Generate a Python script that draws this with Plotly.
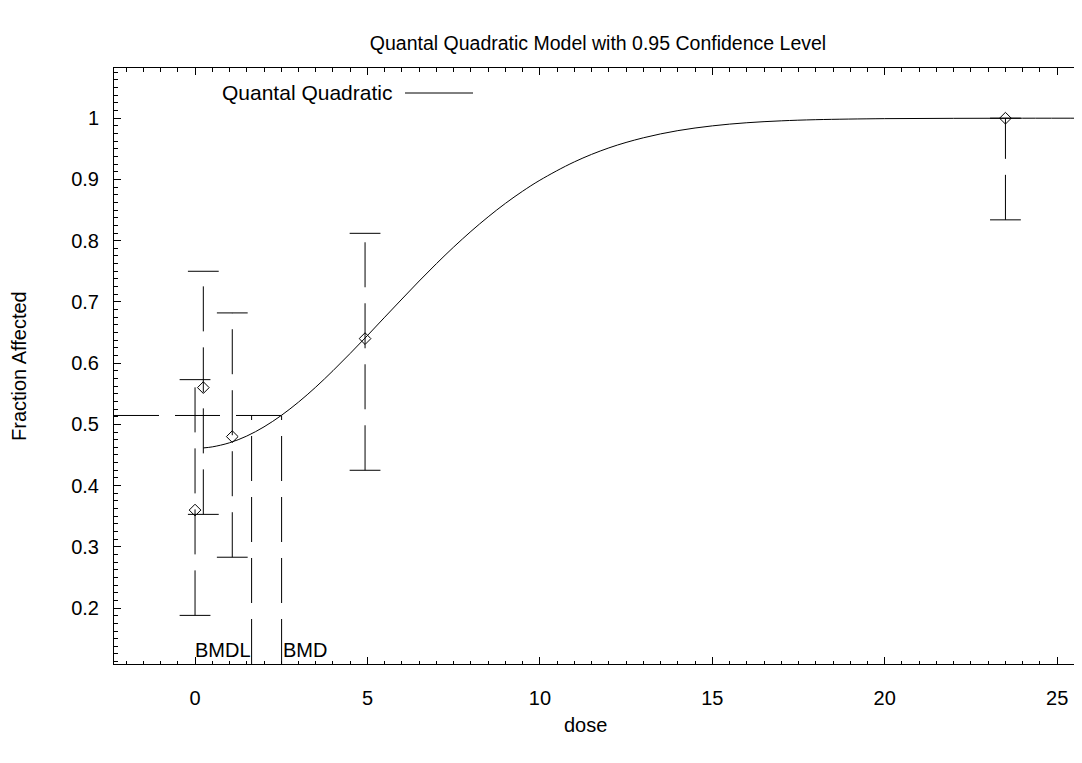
import plotly.graph_objects as go

# Observed data (dose, fraction affected, 95% CI)
dose = [0.0, 0.24, 1.08, 4.93, 23.5]
frac = [0.36, 0.56, 0.48, 0.64, 1.00]
ci_lo = [0.188, 0.353, 0.283, 0.425, 0.834]
ci_hi = [0.573, 0.750, 0.682, 0.812, 1.000]

# Fitted Quantal Quadratic curve
curve_dose = [0.24, 0.5, 1, 1.5, 2, 2.5, 3, 3.5, 4, 4.5, 5, 5.5, 6, 6.5, 7, 7.5,
              8, 8.5, 9, 9.5, 10, 11, 12, 13, 14, 15, 16, 17, 18, 20, 22, 24, 26]
curve_p = [0.4615, 0.4632, 0.4699, 0.4809, 0.4959, 0.5145, 0.5363, 0.5608, 0.5876,
           0.6159, 0.6451, 0.6750, 0.7047, 0.7341, 0.7625, 0.7896, 0.8151, 0.8389,
           0.8609, 0.8808, 0.8987, 0.9287, 0.9515, 0.9680, 0.9797, 0.9875, 0.9926,
           0.9957, 0.9976, 0.9993, 0.9998, 1.0, 1.0]

bmr_level = 0.5145
bmd = 2.51
bmdl = 1.64

x_range = [-2.35, 25.72]
y_range = [0.1086, 1.082]

x_ticks = [0, 5, 10, 15, 20, 25]
y_ticks = [0.2, 0.3, 0.4, 0.5, 0.6, 0.7, 0.8, 0.9, 1]

FONT = "Liberation Sans, Arial, Helvetica, sans-serif"
FS = 20
DASH = "45px,16px"

# The page body has an 8px default margin; the figure is sized to fill the
# rest of the 1082x763 window.
OFF = 8
WIN_W, WIN_H = 1082, 763
FIG_W, FIG_H = WIN_W - OFF, WIN_H - OFF

# plot area in window pixels
L, T, R, B = 114, 68, 1082, 664
PW, PH = R - L, B - T

def px(xp):
    return (xp - L) / PW

def py(yp):
    return (B - yp) / PH

fig = go.Figure()

# Error bars (dashed vertical, drawn bottom-up)
ex, ey = [], []
for d, lo, hi in zip(dose, ci_lo, ci_hi):
    ex += [d, d, None]
    ey += [lo, hi, None]
fig.add_trace(go.Scatter(x=ex, y=ey, mode="lines",
                         line=dict(color="black", width=1, dash=DASH),
                         hoverinfo="skip", showlegend=False))
# Caps
fig.add_trace(go.Scatter(x=dose + dose, y=ci_lo + ci_hi, mode="markers",
                         marker=dict(symbol="line-ew-open", size=22, color="black",
                                     line=dict(color="black", width=1)),
                         hoverinfo="skip", showlegend=False))

# Fitted curve
fig.add_trace(go.Scatter(x=curve_dose, y=curve_p, mode="lines", line_shape="spline",
                         line=dict(color="black", width=1), name="Quantal Quadratic",
                         showlegend=False))

# BMR horizontal and BMD / BMDL verticals
fig.add_trace(go.Scatter(x=[x_range[0], bmd], y=[bmr_level, bmr_level], mode="lines",
                         line=dict(color="black", width=1, dash=DASH),
                         hoverinfo="skip", showlegend=False))
fig.add_trace(go.Scatter(x=[bmdl, bmdl, None, bmd, bmd],
                         y=[y_range[0], bmr_level, None, y_range[0], bmr_level],
                         mode="lines", line=dict(color="black", width=1, dash=DASH),
                         hoverinfo="skip", showlegend=False))

# Observed points
fig.add_trace(go.Scatter(x=dose, y=frac, mode="markers",
                         marker=dict(symbol="diamond-open", size=9, color="black",
                                     line=dict(color="black", width=1)),
                         showlegend=False))

fig.add_annotation(x=bmdl, y=0.131, text="BMDL", showarrow=False, xanchor="right",
                   yanchor="middle", xshift=1, font=dict(family=FONT, size=FS, color="black"))
fig.add_annotation(x=bmd, y=0.131, text="BMD", showarrow=False, xanchor="left",
                   yanchor="middle", xshift=-1, font=dict(family=FONT, size=FS, color="black"))

# Legend drawn manually (text then line sample)
fig.add_annotation(xref="paper", yref="paper", x=px(220), y=py(93),
                   text="Quantal Quadratic", showarrow=False, xanchor="left", yanchor="middle",
                   font=dict(family=FONT, size=21, color="black"))
fig.add_shape(type="line", xref="paper", yref="paper",
              x0=px(405), x1=px(473), y0=py(93), y1=py(93),
              line=dict(color="black", width=1))

# Axis titles
fig.add_annotation(xref="paper", yref="paper", x=px(585), y=py(725),
                   text="dose", showarrow=False, xanchor="center", yanchor="middle",
                   font=dict(family=FONT, size=FS, color="black"))
fig.add_annotation(xref="paper", yref="paper", x=px(19), y=py(366),
                   text="Fraction Affected", showarrow=False, textangle=-90,
                   xanchor="center", yanchor="middle",
                   font=dict(family=FONT, size=FS, color="black"))

tick_common = dict(showgrid=False, zeroline=False, showline=True, linecolor="black",
                   linewidth=1, ticks="inside", ticklen=7,
                   tickcolor="black", tickwidth=1,
                   tickfont=dict(family=FONT, size=FS, color="black"))

fig.update_xaxes(range=x_range, tickvals=x_ticks, ticktext=[str(v) for v in x_ticks],
                 mirror="allticks",
                 minor=dict(ticks="inside", ticklen=3.5, dtick=0.5, tick0=0,
                            tickcolor="black", showgrid=False),
                 ticklabelstandoff=16,
                 **tick_common)
fig.update_yaxes(range=y_range, tickvals=y_ticks, ticktext=[f"{v:g}" for v in y_ticks],
                 mirror=False,
                 minor=dict(ticks="inside", ticklen=3.5, dtick=0.0125, tick0=0,
                            tickcolor="black", showgrid=False),
                 ticklabelstandoff=10,
                 **tick_common)

fig.update_layout(
    width=FIG_W, height=FIG_H,
    margin=dict(l=L - OFF, r=WIN_W - R, t=T - OFF, b=WIN_H - B),
    paper_bgcolor="white", plot_bgcolor="white",
    title=dict(text="Quantal Quadratic Model with 0.95 Confidence Level",
               x=((L + R) / 2 - OFF) / FIG_W, xanchor="center",
               y=1 - (43 - OFF) / FIG_H, yanchor="middle",
               font=dict(family=FONT, size=19.5, color="black")),
    showlegend=False,
)

fig.write_html("out.html")
